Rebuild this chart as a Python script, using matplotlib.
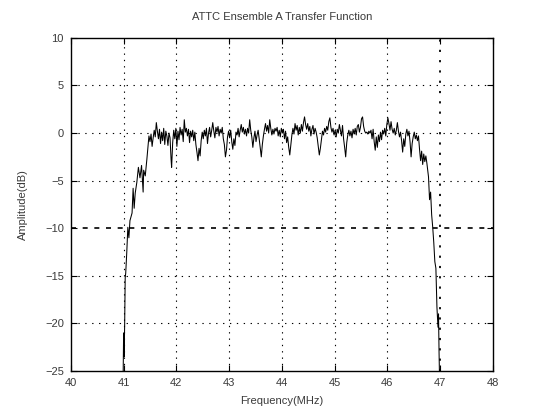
import matplotlib
matplotlib.use("Agg")
import matplotlib.pyplot as plt

# Measured channel response of ensemble A (frequency in MHz, amplitude in dB)
rise_freq = [40.99, 41.00, 41.01, 41.02, 41.03, 41.04, 41.06, 41.08, 41.10, 41.12,
             41.16, 41.18, 41.20, 41.22, 41.25, 41.28, 41.31, 41.34, 41.37, 41.38,
             41.41, 41.44]
rise_amp = [-26.0, -21.0, -23.5, -20.0, -15.2, -14.7, -12.5, -9.9, -11.0, -9.2,
            -8.4, -5.8, -7.9, -6.3, -5.2, -3.6, -4.7, -3.4, -6.2, -3.9,
            -4.5, -2.8]

band_freq = [
    41.46, 41.48, 41.50, 41.52, 41.54, 41.56, 41.58, 41.60, 41.62, 41.64,
    41.66, 41.68, 41.70, 41.72, 41.74, 41.76, 41.78, 41.80, 41.82, 41.84,
    41.86, 41.88, 41.90, 41.91, 41.93, 41.95, 41.97, 41.99, 42.01, 42.03,
    42.05, 42.07, 42.09, 42.11, 42.13, 42.15, 42.17, 42.19, 42.21, 42.23,
    42.25, 42.27, 42.29, 42.31, 42.33, 42.35, 42.37, 42.39, 42.41, 42.43,
    42.45, 42.47, 42.49, 42.51, 42.53, 42.55, 42.57, 42.59, 42.61, 42.63,
    42.65, 42.67, 42.69, 42.71, 42.73, 42.75, 42.77, 42.79, 42.81, 42.83,
    42.85, 42.87, 42.89, 42.91, 42.93, 42.95, 42.97, 42.99, 43.01, 43.03,
    43.05, 43.07, 43.09, 43.11, 43.13, 43.15, 43.17, 43.19, 43.21, 43.23,
    43.25, 43.27, 43.29, 43.31, 43.33, 43.35, 43.37, 43.39, 43.41, 43.43,
    43.45, 43.47, 43.49, 43.51, 43.53, 43.55, 43.57, 43.59, 43.61, 43.63,
    43.65, 43.67, 43.69, 43.71, 43.73, 43.75, 43.77, 43.79, 43.81, 43.83,
    43.85, 43.87, 43.89, 43.91, 43.93, 43.95, 43.97, 43.99, 44.01, 44.03,
    44.05, 44.07, 44.09, 44.11, 44.13, 44.15, 44.17, 44.19, 44.21, 44.23,
    44.25, 44.27, 44.29, 44.31, 44.33, 44.35, 44.37, 44.39, 44.41, 44.43,
    44.45, 44.47, 44.49, 44.51, 44.53, 44.55, 44.57, 44.59, 44.61, 44.63,
    44.65, 44.67, 44.69, 44.71, 44.73, 44.75, 44.77, 44.79, 44.81, 44.83,
    44.85, 44.87, 44.89, 44.91, 44.93, 44.95, 44.97, 44.99, 45.01, 45.03,
    45.05, 45.07, 45.09, 45.11, 45.13, 45.15, 45.17, 45.19, 45.21, 45.23,
    45.25, 45.27, 45.29, 45.31, 45.33, 45.35, 45.37, 45.39, 45.41, 45.43,
    45.45, 45.47, 45.49, 45.51, 45.53, 45.55, 45.57, 45.59, 45.61, 45.63,
    45.65, 45.67, 45.69, 45.71, 45.73, 45.75, 45.77, 45.79, 45.81, 45.83,
    45.85, 45.87, 45.89, 45.91, 45.93, 45.95, 45.97, 45.99, 46.01, 46.03,
    46.05, 46.07, 46.09, 46.11, 46.13, 46.15, 46.17, 46.19, 46.21, 46.23,
    46.25, 46.27, 46.29, 46.31, 46.33, 46.35, 46.37, 46.39, 46.41, 46.43,
    46.45, 46.47, 46.49, 46.51, 46.53, 46.55, 46.57, 46.59, 46.61, 46.63,
    46.65, 46.67, 46.69, 46.71, 46.73,
]
band_amp = [
    -1.5, -0.3, -0.9, -0.1, -1.4, -0.5, 0.3, -0.4, 1.1, 0.2,
    -0.6, 0.4, -1.1, 0.1, -0.8, 0.5, -1.2, 0.2, -0.3, -1.3,
    0.0, -0.5, -2.8, -3.6, -1.0, 0.3, -0.6, 0.5, -1.4, 0.2,
    -0.7, 0.6, -0.2, 0.4, -0.9, 1.4, 0.1, 0.5, -0.3, 0.4,
    -1.0, 0.2, -0.4, 0.3, -0.8, 0.1, -1.2, -2.0, -2.9, -1.6,
    -2.4, -0.8, 0.1, -0.6, 0.3, -0.3, 0.5, -1.1, 0.0, 0.6,
    -0.4, 0.3, 1.1, 0.2, -0.5, 0.6, 0.1, 0.7, -0.3, 0.4,
    0.0, 0.6, -0.6, -1.2, -2.5, -1.8, -0.4, 0.2, -0.5, 0.3,
    -0.9, -1.7, -0.6, -1.3, 0.1, -0.2, 0.5, -0.4, 0.3, 0.9,
    0.1, 0.6, -0.1, 0.4, -0.3, 0.5, 0.0, 1.4, 0.3, -0.4,
    -1.5, -0.5, 0.2, -0.9, -0.2, 0.3, -0.6, -1.6, -2.5, -1.2,
    -0.3, 0.4, 1.0, 0.2, 0.8, 0.0, 1.4, 0.5, -0.2, 0.4,
    -0.1, 0.5, 0.2, 0.6, -0.3, 0.3, -0.4, 0.5, 0.0, 0.4,
    -0.6, 0.2, -1.0, -0.4, -1.5, -2.3, -1.2, -0.2, 0.5, -0.1,
    1.0, 0.3, 0.8, -0.2, 0.6, 0.0, 0.9, 0.2, 1.1, 1.7,
    0.9, 0.4, 1.0, 0.2, 0.7, -0.3, 0.4, 0.8, -0.1, 0.5,
    0.1, -0.5, -1.4, -2.3, -1.6, -0.7, 0.2, -0.2, 0.5, 0.1,
    0.7, 0.3, 1.2, 1.6, 0.6, 0.1, 0.5, -0.2, 0.3, -0.4,
    0.4, 0.0, 0.9, 0.3, -0.3, 0.8, -0.6, -1.5, -2.5, -1.0,
    -0.2, 0.3, -0.3, 0.2, -0.5, 0.4, -0.1, 0.5, -0.2, 0.7,
    0.9, 0.1, 0.6, 1.5, 1.7, 0.7, 0.2, 0.0, 0.1, -0.1,
    0.2, 0.0, 0.3, -0.6, 0.4, -0.9, -1.8, -0.4, -1.5, -0.2,
    -0.9, 0.1, -0.7, 0.3, -0.1, 0.5, -0.3, 0.9, 1.6, 1.0,
    0.3, 1.2, 0.4, 0.0, 0.5, -0.2, 0.3, 1.1, 0.2, -0.4,
    0.1, -0.8, -2.0, -0.6, -1.4, -0.1, 0.4, -0.3, 0.2, -0.9,
    -2.5, -1.1, -0.4, 0.1, -0.6, -0.2, -0.8, -0.3, -1.7, -2.9,
    -1.9, -3.3, -2.2, -3.0, -2.4,
]

fall_freq = [46.75, 46.78, 46.80, 46.82, 46.84, 46.86, 46.88, 46.90, 46.92, 46.94,
             46.96, 46.97, 46.98, 46.99]
fall_amp = [-3.2, -4.6, -7.0, -6.2, -8.6, -9.9, -11.5, -13.5, -14.2, -18.3,
            -20.4, -19.0, -23.0, -26.0]

x_ticks = [40, 41, 42, 43, 44, 45, 46, 47, 48]
y_ticks = [-25, -20, -15, -10, -5, 0, 5, 10]

freq = rise_freq + band_freq + fall_freq
amp = rise_amp + band_amp + fall_amp

plt.rcParams["font.family"] = ["Liberation Sans", "DejaVu Sans"]
text_color = "#3a3a3a"

fig = plt.figure(figsize=(5.41, 4.12), dpi=100)
ax = fig.add_axes([0.131, 0.0995, 0.780, 0.8085])

ax.plot(freq, amp, color="black", linewidth=0.75, zorder=3)

ax.set_xlim(40, 48)
ax.set_ylim(-25, 10)
ax.set_xticks(x_ticks)
ax.set_yticks(y_ticks)
ax.tick_params(direction="in", length=4, width=0.8, labelsize=8,
               labelcolor=text_color, pad=5, top=True, right=True)

# dotted grid, as drawn by the instrument software
for xv in x_ticks[1:-1]:
    heavy = xv == 47
    ax.axvline(xv, color="black", linewidth=1.3 if heavy else 0.8,
               linestyle=(0, (1.2, 4.5)), zorder=1)
for yv in y_ticks[1:-1]:
    heavy = yv == -10
    ax.axhline(yv, color="black", linewidth=1.2 if heavy else 0.8,
               linestyle=(0, (3, 4)) if heavy else (0, (1.2, 5)), zorder=1)

for s in ax.spines.values():
    s.set_linewidth(1.0)
    s.set_color("black")

ax.set_title("ATTC Ensemble A Transfer Function", fontsize=8,
             color=text_color, pad=13)
ax.set_xlabel("Frequency(MHz)", fontsize=8, color=text_color, labelpad=6)
ax.set_ylabel("Amplitude(dB)", fontsize=8, color=text_color, labelpad=12)

fig.savefig("out.png", dpi=100, facecolor="white")
